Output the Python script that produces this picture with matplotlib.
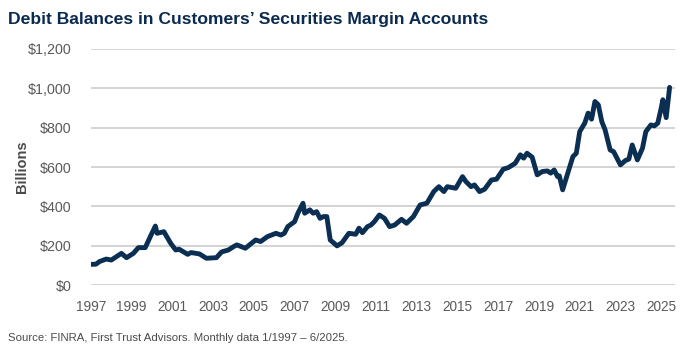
"""Debit balances in customers' securities margin accounts, 1997-2025."""

import matplotlib

matplotlib.use("Agg")
import matplotlib.dates as mdates
import matplotlib.pyplot as plt
import pandas as pd

# Month-end readings (billions of dollars)
months = [
    "1997-01", "1997-04", "1997-06", "1997-10", "1998-01", "1998-04", "1998-07",
    "1998-10", "1999-02", "1999-05", "1999-09", "1999-12", "2000-03", "2000-04",
    "2000-08", "2000-12", "2001-03", "2001-05", "2001-10", "2001-12", "2002-05",
    "2002-09", "2003-03", "2003-06", "2003-10", "2004-01", "2004-03", "2004-08",
    "2005-02", "2005-05", "2005-09", "2006-02", "2006-05", "2006-07", "2006-09",
    "2007-01", "2007-03", "2007-06", "2007-07", "2007-10", "2007-12", "2008-02",
    "2008-04", "2008-06", "2008-08", "2008-10", "2009-02", "2009-05", "2009-09",
    "2010-01", "2010-03", "2010-05", "2010-08", "2010-10", "2010-12", "2011-03",
    "2011-06", "2011-09", "2011-12", "2012-04", "2012-07", "2012-11", "2013-03",
    "2013-07", "2013-11", "2014-02", "2014-05", "2014-07", "2014-12", "2015-04",
    "2015-06", "2015-09", "2015-11", "2016-02", "2016-05", "2016-09", "2016-12",
    "2017-04", "2017-07", "2017-11", "2018-02", "2018-04", "2018-06", "2018-09",
    "2018-12", "2019-03", "2019-06", "2019-08", "2019-10", "2019-12", "2020-01",
    "2020-03", "2020-06", "2020-09", "2020-11", "2021-01", "2021-04", "2021-06",
    "2021-08", "2021-10", "2021-12", "2022-02", "2022-04", "2022-07", "2022-09",
    "2023-01", "2023-04", "2023-06", "2023-08", "2023-11", "2024-02", "2024-04",
    "2024-07", "2024-09", "2024-11", "2025-01", "2025-02", "2025-04", "2025-06",
]
balances = [
    105, 106, 119, 132, 127, 144, 161,
    139, 161, 190, 190, 246, 300, 263,
    271, 212, 178, 182, 156, 165, 158,
    136, 139, 168, 178, 195, 204, 187,
    229, 221, 246, 263, 254, 263, 297,
    322, 365, 416, 365, 382, 365, 373,
    339, 348, 348, 229, 199, 215, 263,
    258, 289, 266, 297, 305, 322, 356,
    339, 297, 305, 334, 314, 348, 407,
    416, 475, 500, 475, 500, 492, 551,
    526, 500, 509, 475, 487, 534, 538,
    589, 597, 619, 662, 645, 670, 650,
    560, 577, 580, 569, 585, 551, 555,
    484, 569, 653, 670, 780, 823, 874,
    843, 933, 916, 831, 789, 687, 678,
    611, 633, 640, 712, 636, 696, 780,
    814, 809, 823, 899, 942, 851, 1005,
]

year_ticks = list(range(1997, 2026, 2))
y_ticks = [0, 200, 400, 600, 800, 1000, 1200]

NAVY = "#0b2f52"
GRID = "#c9c9c9"
LABEL = "#5a5a5a"

plt.rcParams["font.family"] = ["Liberation Sans", "DejaVu Sans"]

dates = pd.to_datetime(months, format="%Y-%m")

fig = plt.figure(figsize=(6.83, 3.52), dpi=100)
ax = fig.add_axes([0.1332, 0.1903, 0.855, 0.6705])

ax.plot(dates, balances, color=NAVY, linewidth=3.5, solid_joinstyle="round",
        solid_capstyle="round", zorder=3)

ax.set_ylim(0, 1200)
ax.set_yticks(y_ticks)
ax.set_yticklabels([f"${v:,}" for v in y_ticks])
ax.set_xlim(pd.Timestamp("1997-01-01"), pd.Timestamp("2025-09-05"))
ax.set_xticks([pd.Timestamp(f"{y}-01-01") for y in year_ticks])
ax.xaxis.set_major_formatter(mdates.DateFormatter("%Y"))

ax.grid(axis="y", color=GRID, linewidth=1.1)
ax.set_axisbelow(True)
for side in ax.spines.values():
    side.set_visible(False)
ax.tick_params(axis="both", length=0, labelcolor=LABEL)
ax.tick_params(axis="y", pad=14, labelsize=10.3)
ax.tick_params(axis="x", pad=11, labelsize=9.8)

ax.set_ylabel("Billions", fontsize=10.5, fontweight="bold", color="#4a4a4a",
              labelpad=-1)

fig.text(0.012, 0.945, "Debit Balances in Customers\u2019 Securities Margin Accounts",
         fontsize=12.6, fontweight="bold", color="#0b2a4f", va="center")
fig.text(0.012, 0.04, "Source: FINRA, First Trust Advisors. Monthly data 1/1997 \u2013 6/2025.",
         fontsize=8.2, color="#4a4a4a", va="center")

fig.savefig("out.png", dpi=100)
